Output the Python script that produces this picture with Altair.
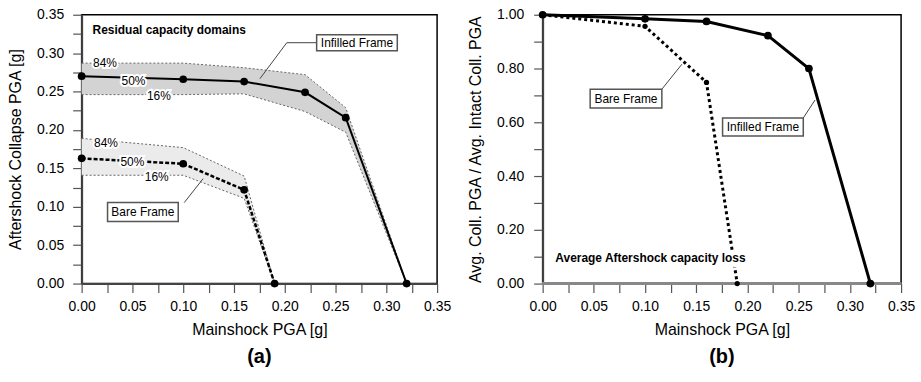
import altair as alt
import pandas as pd

FONT = "Liberation Sans"

# ---------------- data ----------------
x_inf = [0.00, 0.10, 0.16, 0.22, 0.26, 0.32]
inf_50 = [0.270, 0.266, 0.263, 0.249, 0.216, 0.000]
inf_84 = [0.287, 0.287, 0.281, 0.272, 0.229, 0.000]
inf_16 = [0.246, 0.246, 0.247, 0.224, 0.197, 0.000]

x_bare = [0.00, 0.10, 0.16, 0.19]
bare_50 = [0.163, 0.156, 0.122, 0.000]
bare_84 = [0.189, 0.177, 0.140, 0.000]
bare_16 = [0.141, 0.141, 0.111, 0.000]

ratio_inf = [1.000, 0.985, 0.975, 0.922, 0.800, 0.000]
ratio_bare = [1.000, 0.957, 0.748, 0.000]

x_ticks = [round(i * 0.025, 3) for i in range(15)]
y_ticks_a = [round(i * 0.025, 3) for i in range(15)]
y_ticks_b = [round(i * 0.1, 1) for i in range(11)]

# percentile labels (panel a)
pct_text = ["84%", "50%", "16%", "84%", "50%", "16%"]
pct_x = [0.023, 0.051, 0.076, 0.024, 0.050, 0.074]
pct_y = [0.287, 0.264, 0.244, 0.183, 0.158, 0.139]

# annotation boxes
a_box_text = ["Infilled Frame", "Bare Frame"]
a_box_x0 = [0.2314, 0.0255]
a_box_x1 = [0.3108, 0.0951]
a_box_y0 = [0.3032, 0.0807]
a_box_y1 = [0.3240, 0.1054]
a_lead_x = [0.1755, 0.2020, 0.1010]
a_lead_y = [0.2667, 0.3136, 0.1054]
a_lead_x2 = [0.2020, 0.2314, 0.1196]
a_lead_y2 = [0.3136, 0.3136, 0.1366]

b_box_text = ["Bare Frame", "Infilled Frame"]
b_box_x0 = [0.0464, 0.1757]
b_box_x1 = [0.1164, 0.2545]
b_box_y0 = [0.653, 0.549]
b_box_y1 = [0.723, 0.616]
b_lead_x = [0.1164, 0.2545]
b_lead_y = [0.723, 0.616]
b_lead_x2 = [0.1360, 0.2660]
b_lead_y2 = [0.816, 0.683]

a_caption = ["Residual capacity domains"]
a_cap_x = [0.0108]
a_cap_y = [0.3305]
b_caption = ["Average Aftershock capacity loss"]
b_cap_x = [0.0124]
b_cap_y = [0.094]

# ---------------- tables ----------------
band_inf = pd.DataFrame({"x": x_inf, "hi": inf_84, "lo": inf_16})
band_bare = pd.DataFrame({"x": x_bare, "hi": bare_84, "lo": bare_16})
pct_lines = pd.concat([
    pd.DataFrame({"x": x_inf, "y": inf_84, "c": "i84"}),
    pd.DataFrame({"x": x_inf, "y": inf_16, "c": "i16"}),
    pd.DataFrame({"x": x_bare, "y": bare_84, "c": "b84"}),
    pd.DataFrame({"x": x_bare, "y": bare_16, "c": "b16"}),
])
med_inf = pd.DataFrame({"x": x_inf, "y": inf_50})
med_bare = pd.DataFrame({"x": x_bare, "y": bare_50})
pct_df = pd.DataFrame({"t": pct_text, "x": pct_x, "y": pct_y})
a_box = pd.DataFrame({"t": a_box_text, "x": a_box_x0, "x1": a_box_x1,
                      "y": a_box_y0, "y1": a_box_y1})
a_box["xc"] = (a_box.x + a_box.x1) / 2
a_box["yc"] = (a_box.y + a_box.y1) / 2
a_lead = pd.DataFrame({"x": a_lead_x, "y": a_lead_y, "x2": a_lead_x2, "y2": a_lead_y2})
b_box = pd.DataFrame({"t": b_box_text, "x": b_box_x0, "x1": b_box_x1,
                      "y": b_box_y0, "y1": b_box_y1})
b_box["xc"] = (b_box.x + b_box.x1) / 2
b_box["yc"] = (b_box.y + b_box.y1) / 2
b_lead = pd.DataFrame({"x": b_lead_x, "y": b_lead_y, "x2": b_lead_x2, "y2": b_lead_y2})
rat_inf = pd.DataFrame({"x": x_inf, "y": ratio_inf})
rat_bare = pd.DataFrame({"x": x_bare, "y": ratio_bare})
a_cap = pd.DataFrame({"t": a_caption, "x": a_cap_x, "y": a_cap_y})
b_cap = pd.DataFrame({"t": b_caption, "x": b_cap_x, "y": b_cap_y})

# ---------------- scales/axes ----------------
xscale = alt.Scale(domain=[0, 0.35], nice=False, zero=False)
ya_scale = alt.Scale(domain=[0, 0.35], nice=False, zero=False)
yb_scale = alt.Scale(domain=[0, 1.0], nice=False, zero=False)

x_axis = alt.Axis(title="Mainshock PGA [g]", values=x_ticks,
                  labelExpr="round(datum.value*1000) % 50 == 0 ? format(datum.value, '.2f') : ''",
                  labelPadding=7, titlePadding=8)
ya_axis = alt.Axis(title="Aftershock Collapse PGA [g]", values=y_ticks_a,
                   labelExpr="round(datum.value*1000) % 50 == 0 ? format(datum.value, '.2f') : ''",
                   labelPadding=9, titlePadding=13)
yb_axis = alt.Axis(title="Avg. Coll. PGA / Avg. Intact Coll. PGA", values=y_ticks_b,
                   labelExpr="round(datum.value*10) % 2 == 0 ? format(datum.value, '.2f') : ''",
                   labelPadding=10, titlePadding=13)

X = alt.X("x:Q", scale=xscale, axis=x_axis)
YA = alt.Y("y:Q", scale=ya_scale, axis=ya_axis)
YB = alt.Y("y:Q", scale=yb_scale, axis=yb_axis)


def txt(df, size=12, weight="normal", align="center", halo=4):
    base_h = alt.Chart(df).mark_text(font=FONT, fontSize=size, fontWeight=weight,
                                     align=align, baseline="middle",
                                     stroke="white", strokeWidth=halo, fill="white")
    base_t = alt.Chart(df).mark_text(font=FONT, fontSize=size, fontWeight=weight,
                                     align=align, baseline="middle", color="black")
    return base_h, base_t


# ---------------- panel (a) ----------------
a_layers = [
    alt.Chart(band_inf).mark_area(color="#d3d3d3").encode(x=X, y=alt.Y("hi:Q", scale=ya_scale, axis=ya_axis), y2="lo:Q"),
    alt.Chart(band_bare).mark_area(color="#ebebeb").encode(x=X, y=alt.Y("hi:Q", scale=ya_scale, axis=ya_axis), y2="lo:Q"),
    alt.Chart(pct_lines).mark_line(color="#666", strokeWidth=1, strokeDash=[2, 2]).encode(x=X, y=YA, detail="c:N"),
    alt.Chart(med_inf).mark_line(color="black", strokeWidth=2).encode(x=X, y=YA),
    alt.Chart(med_bare).mark_line(color="black", strokeWidth=2.5, strokeDash=[4, 2]).encode(x=X, y=YA),
    alt.Chart(med_inf).mark_point(filled=True, color="black", size=60, opacity=1).encode(x=X, y=YA),
    alt.Chart(med_bare).mark_point(filled=True, color="black", size=60, opacity=1).encode(x=X, y=YA),
    alt.Chart(a_lead).mark_rule(color="#444", strokeWidth=1).encode(x=X, y=YA, x2="x2:Q", y2="y2:Q"),
    alt.Chart(a_box).mark_rect(fill="white", stroke="#555", strokeWidth=1.5).encode(
        x=X, x2="x1:Q", y=YA, y2="y1:Q"),
    alt.Chart(a_box).mark_text(font=FONT, fontSize=12, color="black").encode(
        x=alt.X("xc:Q", scale=xscale, axis=x_axis), y=alt.Y("yc:Q", scale=ya_scale, axis=ya_axis), text="t:N"),
]
h, t = txt(pct_df)
a_layers += [h.encode(x=X, y=YA, text="t:N"), t.encode(x=X, y=YA, text="t:N")]
h, t = txt(a_cap, weight="bold", align="left", halo=0)
a_layers += [t.encode(x=X, y=YA, text="t:N")]

panel_a = alt.layer(*a_layers).properties(
    width=357, height=270,
    title=alt.TitleParams("(a)", orient="bottom", fontSize=20, fontWeight="bold",
                          font=FONT, frame="group", anchor="middle", offset=10, color="black"),
)

# ---------------- panel (b) ----------------
b_layers = [
    alt.Chart(rat_inf).mark_rule(color="#888", strokeWidth=3).encode(y=alt.datum(0, scale=yb_scale, axis=yb_axis)),
    alt.Chart(rat_inf).mark_line(color="black", strokeWidth=3).encode(x=X, y=YB),
    alt.Chart(rat_bare).mark_line(color="black", strokeWidth=3, strokeDash=[3, 3]).encode(x=X, y=YB),
    alt.Chart(rat_inf).mark_point(filled=True, color="black", size=60, opacity=1).encode(x=X, y=YB),
    alt.Chart(rat_bare).mark_point(filled=True, color="black", size=28, opacity=1).encode(x=X, y=YB),
    alt.Chart(b_lead).mark_rule(color="#444", strokeWidth=1).encode(x=X, y=YB, x2="x2:Q", y2="y2:Q"),
    alt.Chart(b_box).mark_rect(fill="white", stroke="#555", strokeWidth=1.5).encode(
        x=X, x2="x1:Q", y=YB, y2="y1:Q"),
    alt.Chart(b_box).mark_text(font=FONT, fontSize=12, color="black").encode(
        x=alt.X("xc:Q", scale=xscale, axis=x_axis), y=alt.Y("yc:Q", scale=yb_scale, axis=yb_axis), text="t:N"),
]
h, t = txt(b_cap, weight="bold", align="left", halo=10)
b_layers += [h.encode(x=X, y=YB, text="t:N"), t.encode(x=X, y=YB, text="t:N")]

panel_b = alt.layer(*b_layers).properties(
    width=360, height=270,
    title=alt.TitleParams("(b)", orient="bottom", fontSize=20, fontWeight="bold",
                          font=FONT, frame="group", anchor="middle", offset=10, color="black"),
)

chart = alt.hconcat(panel_a, panel_b, spacing=15).properties(
    padding={"left": 7, "top": 6, "right": 5, "bottom": 0},
    background="white",
).configure_view(stroke="black", strokeWidth=1.5).configure_axis(
    labelFont=FONT, titleFont=FONT, labelFontSize=14, titleFontSize=16,
    titleFontWeight="normal", labelColor="black", titleColor="black",
    ticks=True, tickColor="#555", tickSize=9, tickWidth=1.2, domainColor="#444",
    domainWidth=2, grid=False, labelOverlap=False, labelFlush=False, labelBound=False,
)

chart.save("out.html", embed_options={"renderer": "svg", "actions": False})
